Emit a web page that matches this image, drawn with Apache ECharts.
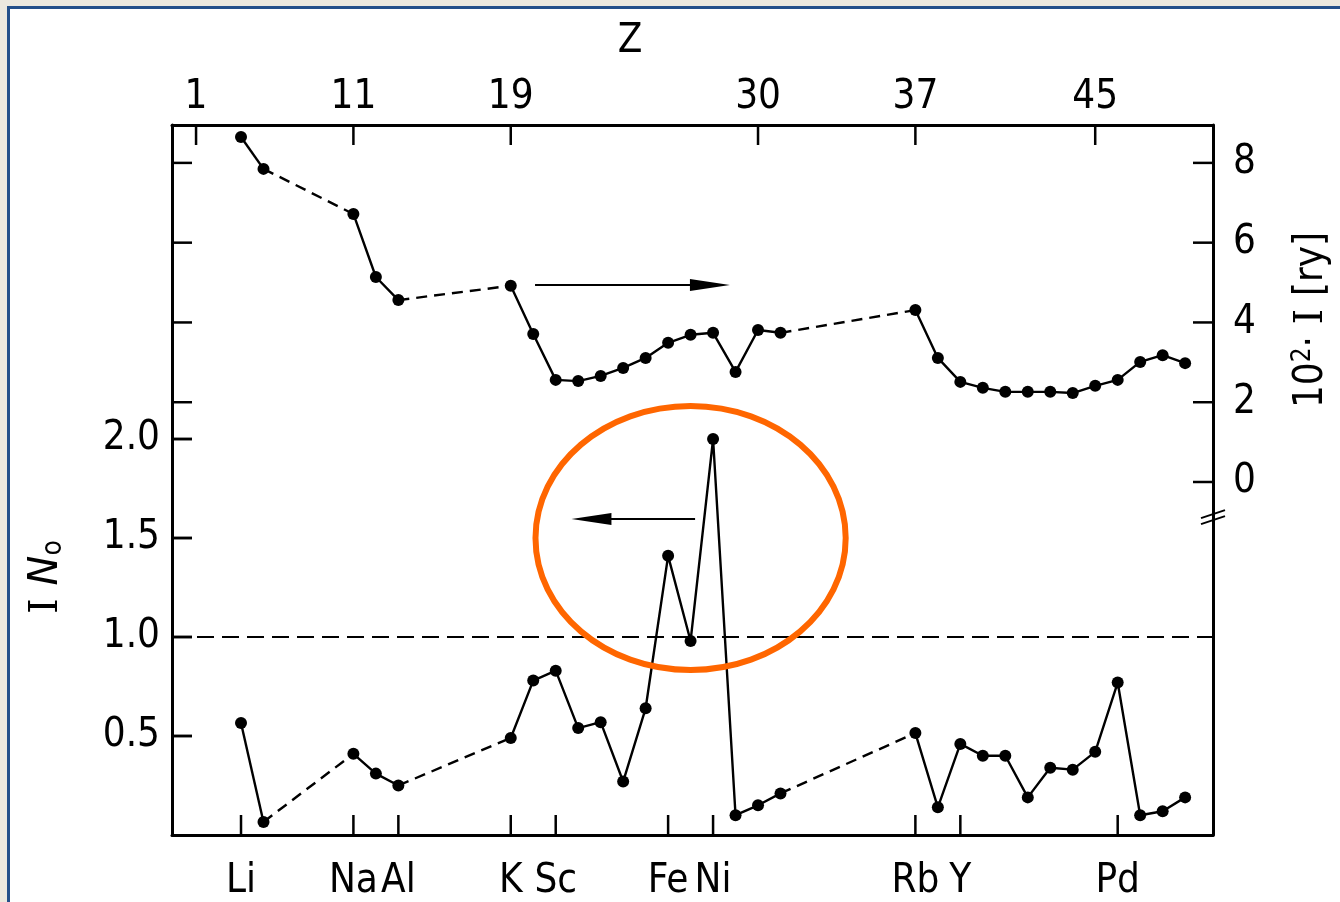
<!DOCTYPE html>
<html>
<head>
<meta charset="utf-8">
<script src="https://cdn.jsdelivr.net/npm/echarts@6/dist/echarts.min.js"></script>
<style>
html,body{margin:0;padding:0;background:#fff;}
#chart{width:1340px;height:902px;}
</style>
</head>
<body>
<div id="chart"></div>
<script>
// ---------------- data ----------------
const elements = ['Li','Be','Na','Mg','Al','K','Ca','Sc','Ti','V','Cr','Mn','Fe','Co','Ni','Cu','Zn','Ga',
                  'Rb','Sr','Y','Zr','Nb','Mo','Tc','Ru','Rh','Pd','Ag','Cd','In'];
const atomicNumber = [3,4,11,12,13,19,20,21,22,23,24,25,26,27,28,29,30,31,
                      37,38,39,40,41,42,43,44,45,46,47,48,49];
// 10^2 * I  [ry]  (right axis)
const stonerI = [8.65,7.85,6.72,5.14,4.56,4.92,3.71,2.56,2.53,2.66,2.86,3.11,3.49,3.69,3.74,2.76,3.81,3.74,
                 4.31,3.11,2.51,2.36,2.26,2.26,2.26,2.23,2.41,2.56,3.01,3.18,2.98];
// I * N0  (left axis)
const stonerIN0 = [0.566,0.066,0.41,0.31,0.25,0.49,0.78,0.83,0.54,0.57,0.27,0.64,1.41,0.98,2.0,0.10,0.15,0.21,
                   0.515,0.14,0.46,0.40,0.40,0.19,0.34,0.33,0.42,0.77,0.10,0.12,0.19];
const topTickZ = [1,11,19,30,37,45];
const bottomTickSymbols = ['Li','Na','Al','K','Sc','Fe','Ni','Rb','Y','Pd'];
const leftTicks = [0.5,1.0,1.5,2.0];
const rightTicks = [0,2,4,6,8];
const stonerLimit = 1.0;
// compressed stretches of the Z axis: [last Z before, first Z after, slots used]
const zAxisGaps = [[4,11,4],[13,19,5],[31,37,6]];

// ---------------- helpers ----------------
function zPos(z){
  let p = z - 1;
  for (const g of zAxisGaps){ if (z >= g[1]) p -= (g[1]-g[0]) - g[2]; }
  return p;
}
const symToZ = {}; elements.forEach((e,i)=>symToZ[e]=atomicNumber[i]);
const bottomPos = bottomTickSymbols.map(s=>zPos(symToZ[s]));
const topPos = topTickZ.map(zPos);
const posLabelBottom = {}; bottomTickSymbols.forEach((s,i)=>posLabelBottom[bottomPos[i]]=s);
const posLabelTop = {}; topTickZ.forEach((z,i)=>posLabelTop[topPos[i]]=String(z));

function segmentsOf(values){
  const segs=[]; let cur=[];
  for(let i=0;i<values.length;i++){
    if(i>0 && atomicNumber[i]-atomicNumber[i-1]>1){ segs.push(cur); cur=[]; }
    cur.push([zPos(atomicNumber[i]), values[i]]);
  }
  segs.push(cur); return segs;
}

const FONT = "'DejaVu Sans Condensed','DejaVu Sans',sans-serif";
const FS = 40;
const XMIN = -1.07, XMAX = 45.24;
const LMIN = 0, LMAX = 3.586;
const RMIN = -8.85, RMAX = 8.95;

const series = [];
function addCurve(values, yIndex, name){
  const segs = segmentsOf(values);
  for(let k=0;k<segs.length-1;k++){
    const a = segs[k][segs[k].length-1], b = segs[k+1][0];
    series.push({type:'line', name:name+'-gap'+k, xAxisIndex:0, yAxisIndex:yIndex, data:[a,b],
      symbol:'none', silent:true, z:2,
      lineStyle:{color:'#000', width:2.4, type:[11,7]}});
  }
  segs.forEach((s,k)=>{
    series.push({type:'line', name:name+'-seg'+k, xAxisIndex:0, yAxisIndex:yIndex, data:s,
      symbol:'circle', symbolSize:12, silent:true, z:3,
      itemStyle:{color:'#000'}, lineStyle:{color:'#000', width:2.4}});
  });
}
addCurve(stonerI, 1, 'I');
addCurve(stonerIN0, 0, 'IN0');
series.push({type:'line', name:'limit', xAxisIndex:0, yAxisIndex:0, data:[], silent:true,
  markLine:{silent:true, symbol:'none', label:{show:false},
    lineStyle:{color:'#000', width:1.8, type:[17,8]}, data:[{yAxis:stonerLimit}]}});

const labelStyle = {color:'#000', fontFamily:FONT, fontSize:FS};
const mkLine = ()=>({show:true, onZero:false, lineStyle:{color:'#000', width:3}});
const TICK_LEN = 20;

const option = {
  animation:false,
  backgroundColor:'#fff',
  grid:{left:172, right:127, top:125, bottom:67, containLabel:false},
  xAxis:[
    {type:'value', position:'bottom', min:XMIN, max:XMAX, axisLine:mkLine(),
     splitLine:{show:false}, axisTick:{show:false},
     axisLabel:Object.assign({customValues:bottomPos, margin:27, formatter:v=>posLabelBottom[v]||''}, labelStyle)},
    {type:'value', position:'top', min:XMIN, max:XMAX, axisLine:mkLine(),
     splitLine:{show:false}, axisTick:{show:false},
     axisLabel:Object.assign({customValues:topPos, margin:7, formatter:v=>posLabelTop[v]||''}, labelStyle)}
  ],
  yAxis:[
    {type:'value', position:'left', min:LMIN, max:LMAX, axisLine:mkLine(), splitLine:{show:false},
     axisTick:{show:false},
     axisLabel:Object.assign({customValues:leftTicks, margin:12, formatter:v=>v.toFixed(1)}, labelStyle)},
    {type:'value', position:'right', min:RMIN, max:RMAX, axisLine:mkLine(), splitLine:{show:false},
     axisTick:{show:false},
     axisLabel:Object.assign({customValues:rightTicks, margin:20, formatter:v=>String(v)}, labelStyle)}
  ],
  series
};

const chart = echarts.init(document.getElementById('chart'), null, {renderer:'canvas', width:1340, height:902});
chart.setOption(option);

// ---------------- ticks & annotations ----------------
const pL = (x,y)=>chart.convertToPixel({xAxisIndex:0, yAxisIndex:0},[x,y]);
const pR = (x,y)=>chart.convertToPixel({xAxisIndex:0, yAxisIndex:1},[x,y]);
const g = [];
function tick(x1,y1,x2,y2){
  g.push({type:'line', shape:{x1:x1,y1:y1,x2:x2,y2:y2}, style:{stroke:'#000', lineWidth:2.5}, silent:true, z:40});
}
// left-axis value expressed on the right-axis scale (both span the full grid height)
const leftOnRight = v => RMIN + (v-LMIN)/(LMAX-LMIN)*(RMAX-RMIN);
const xL = pR(XMIN, 0)[0], xR = pR(XMAX, 0)[0];
bottomPos.forEach(v=>{ const p = pR(v, RMIN); tick(p[0], p[1], p[0], p[1]-TICK_LEN); });
topPos.forEach(v=>{ const p = pR(v, RMAX); tick(p[0], p[1], p[0], p[1]+TICK_LEN); });
leftTicks.forEach(v=>{
  const y1 = pR(XMIN, leftOnRight(v))[1];
  tick(xL, y1, xL+TICK_LEN, y1);
  const y2 = pL(22, v)[1];
  if (isFinite(y2) && Math.abs(y2-y1) < 3) tick(xL, y2, xL+TICK_LEN, y2);
});
rightTicks.forEach(v=>{ const p = pR(XMAX, v); tick(p[0], p[1], p[0]-TICK_LEN, p[1]); });
rightTicks.filter(v=>v>0).forEach(v=>{ const p = pR(XMIN, v); tick(p[0], p[1], p[0]+TICK_LEN, p[1]); });

// page frame
g.push({type:'rect', shape:{x:0,y:0,width:1340,height:6}, style:{fill:'#ece9df'}, silent:true, z:100});
g.push({type:'rect', shape:{x:0,y:0,width:7,height:902}, style:{fill:'#ece9df'}, silent:true, z:100});
g.push({type:'rect', shape:{x:7,y:6,width:1333,height:3}, style:{fill:'#24508a'}, silent:true, z:101});
g.push({type:'rect', shape:{x:7,y:6,width:3,height:896}, style:{fill:'#24508a'}, silent:true, z:101});

// arrow pointing to the right axis (I curve)
const a1s = pR(15.08, 4.94), a1e = pR(23.75, 4.94);
g.push({type:'line', shape:{x1:a1s[0], y1:a1s[1], x2:a1e[0]-30, y2:a1e[1]}, style:{stroke:'#000', lineWidth:2}, silent:true, z:50});
g.push({type:'polygon', shape:{points:[[a1e[0],a1e[1]],[a1e[0]-40,a1e[1]-6],[a1e[0]-40,a1e[1]+6]]}, style:{fill:'#000'}, silent:true, z:50});
// arrow pointing to the left axis (I N0 curve)
const a2s = pL(22.2, 1.596), a2e = pL(16.7, 1.596);
g.push({type:'line', shape:{x1:a2s[0], y1:a2s[1], x2:a2e[0]+30, y2:a2e[1]}, style:{stroke:'#000', lineWidth:2}, silent:true, z:50});
g.push({type:'polygon', shape:{points:[[a2e[0],a2e[1]],[a2e[0]+40,a2e[1]-6],[a2e[0]+40,a2e[1]+6]]}, style:{fill:'#000'}, silent:true, z:50});

// axis break mark on the right axis
const br = pR(XMAX, -0.88);
g.push({type:'line', shape:{x1:br[0]-12, y1:br[1]+1, x2:br[0]+12, y2:br[1]-7}, style:{stroke:'#000', lineWidth:2}, silent:true, z:50});
g.push({type:'line', shape:{x1:br[0]-12, y1:br[1]+7, x2:br[0]+12, y2:br[1]-1}, style:{stroke:'#000', lineWidth:2}, silent:true, z:50});

// highlight ellipse around Fe–Ni
const ec = pL(22, 1.5), ex = pL(22+6.9, 1.5), ey = pL(22, 1.5+0.667);
g.push({type:'ellipse', shape:{cx:ec[0], cy:ec[1], rx:ex[0]-ec[0], ry:ec[1]-ey[1]},
  style:{fill:null, stroke:'#ff6600', lineWidth:6}, silent:true, z:60});

// titles
g.push({type:'text', x:630, y:42, style:{text:'Z', font:FS+'px '+FONT, fill:'#000', align:'center', verticalAlign:'middle'}, silent:true, z:50});
g.push({type:'text', x:47, y:577, rotation:Math.PI/2,
  style:{text:'{i|I }{n|N}{s|o}', fill:'#000', align:'center', verticalAlign:'middle',
    rich:{
      i:{fontFamily:"'DejaVu Serif',serif", fontSize:40, fill:'#000'},
      n:{fontFamily:"'DejaVu Sans','Liberation Sans',sans-serif", fontStyle:'italic', fontSize:40, fill:'#000'},
      s:{fontFamily:FONT, fontSize:28, fill:'#000', padding:[14,0,0,0]}
    }}, silent:true, z:50});
g.push({type:'text', x:1312, y:320, rotation:Math.PI/2,
  style:{text:'{a|10}{s|2}{a|· }{i|I }{a|[ry]}', fill:'#000', align:'center', verticalAlign:'middle',
    rich:{
      a:{fontFamily:FONT, fontSize:40, fill:'#000'},
      s:{fontFamily:FONT, fontSize:26, fill:'#000', padding:[0,0,18,0]},
      i:{fontFamily:"'DejaVu Serif',serif", fontSize:40, fill:'#000'}
    }}, silent:true, z:50});

chart.setOption({graphic:g});
</script>
</body>
</html>
